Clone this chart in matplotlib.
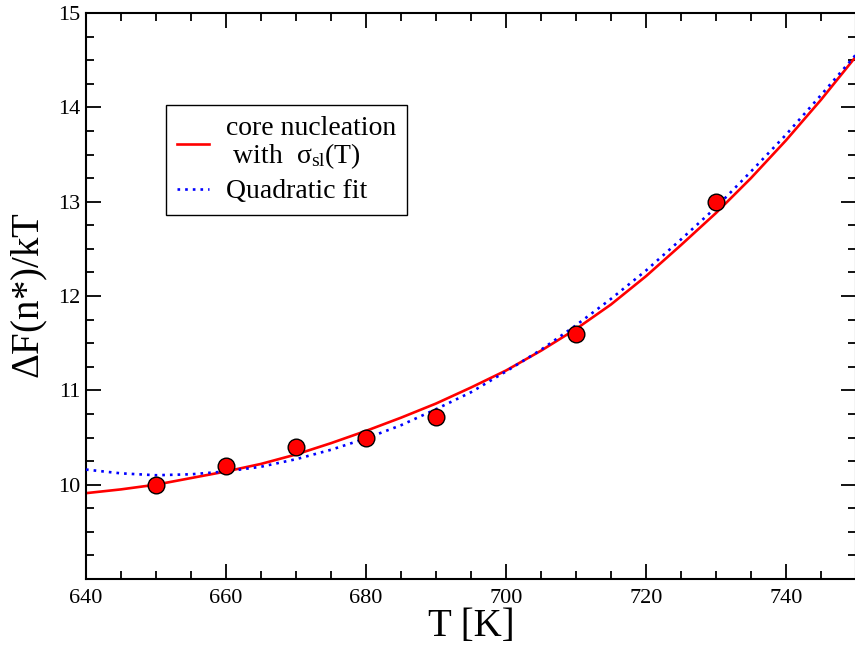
import matplotlib
matplotlib.use("Agg")
import matplotlib.pyplot as plt
from matplotlib.ticker import MultipleLocator

plt.rcParams['font.family'] = ['Liberation Serif', 'DejaVu Serif']
plt.rcParams['mathtext.fontset'] = 'custom'
plt.rcParams['mathtext.rm'] = 'Liberation Serif'
plt.rcParams['mathtext.it'] = 'Liberation Serif'

# simulation points
T_points = [650, 660, 670, 680, 690, 710, 730]
F_points = [10.0, 10.2, 10.4, 10.5, 10.72, 11.6, 13.0]

# curves, every 5 K
T_curve = [640, 645, 650, 655, 660, 665, 670, 675, 680, 685, 690, 695,
           700, 705, 710, 715, 720, 725, 730, 735, 740, 745, 750]
F_core = [9.91, 9.95, 10.00, 10.07, 10.14, 10.22, 10.32, 10.44, 10.57, 10.71, 10.86, 11.03,
          11.21, 11.42, 11.65, 11.91, 12.21, 12.54, 12.88, 13.25, 13.65, 14.08, 14.54]
F_quad = [10.16, 10.12, 10.10, 10.11, 10.14, 10.19, 10.27, 10.37, 10.49, 10.63, 10.80, 10.98,
          11.20, 11.43, 11.69, 11.97, 12.27, 12.60, 12.94, 13.32, 13.71, 14.13, 14.56]

fig = plt.figure(figsize=(8.55, 6.47), dpi=100)
ax = fig.add_axes([86 / 855, 1 - 579 / 647, 770 / 855, 566 / 647])

ax.plot(T_curve, F_core, color='red', lw=1.9, label='core nucleation\n with  $\\sigma_{sl}$(T)', zorder=2)
ax.plot(T_curve, F_quad, color='blue', lw=1.9, linestyle=(0, (1, 1.9)), label='Quadratic fit', zorder=3)
ax.plot(T_points, F_points, 'o', color='red', markeredgecolor='black', markeredgewidth=1.0,
        markersize=12, zorder=4)

ax.set_xlim(640, 750)
ax.set_ylim(9, 15)
ax.xaxis.set_major_locator(MultipleLocator(20))
ax.xaxis.set_minor_locator(MultipleLocator(5))
ax.yaxis.set_major_locator(MultipleLocator(1))
ax.yaxis.set_minor_locator(MultipleLocator(0.25))
ax.set_yticks([10, 11, 12, 13, 14, 15])

ax.tick_params(which='both', direction='in', top=True, right=True, width=1.3, labelsize=16)
ax.tick_params(which='major', length=11)
ax.tick_params(which='minor', length=5.5)
ax.tick_params(axis='x', pad=7)
ax.tick_params(axis='y', pad=4)
for s in ax.spines.values():
    s.set_linewidth(1.5)

ax.set_xlabel('T [K]', fontsize=28, labelpad=0)
ax.set_ylabel('$\\Delta$F(n*)/kT', fontsize=28, labelpad=6)

leg = ax.legend(loc='upper left', bbox_to_anchor=(0.104, 0.837), borderaxespad=0,
                fontsize=20, handlelength=1.15, handletextpad=0.6, labelspacing=0.28,
                fancybox=False, edgecolor='black', framealpha=1, borderpad=0.4)
leg.get_frame().set_linewidth(1.0)
leg.get_texts()[0].set_linespacing(1.0)

fig.savefig('out.png', dpi=100)
